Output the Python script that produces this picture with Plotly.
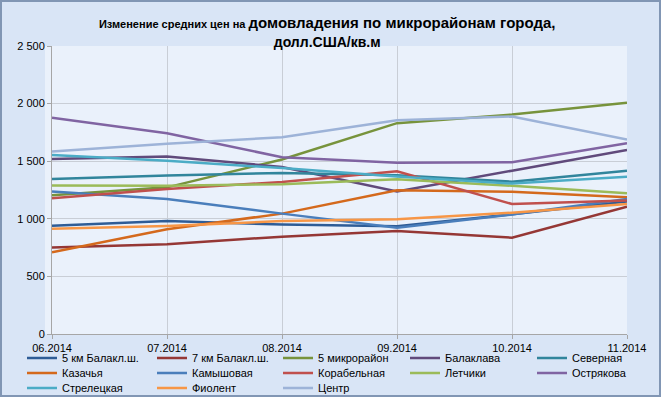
import plotly.graph_objects as go

months = ["06.2014", "07.2014", "08.2014", "09.2014", "10.2014", "11.2014"]

km5_balakl = [940, 980, 950, 935, 1040, 1150]
km7_balakl = [750, 780, 845, 895, 836, 1105]
mikr5 = [1205, 1273, 1515, 1830, 1905, 2008]
balaklava = [1520, 1540, 1450, 1238, 1418, 1598]
severnaya = [1345, 1375, 1398, 1378, 1322, 1418]
kazachya = [710, 910, 1045, 1248, 1235, 1188]
kamyshovaya = [1238, 1172, 1045, 922, 1038, 1172]
korabelnaya = [1178, 1258, 1320, 1413, 1128, 1158]
letchiki = [1290, 1287, 1300, 1343, 1287, 1222]
ostryakova = [1878, 1742, 1535, 1486, 1490, 1655]
streletskaya = [1553, 1503, 1440, 1368, 1306, 1364]
fiolent = [913, 938, 980, 997, 1053, 1128]
centr = [1585, 1652, 1708, 1855, 1888, 1688]

names = ["5 км Балакл.ш.", "7 км Балакл.ш.", "5 микрорайон", "Балаклава", "Северная",
         "Казачья", "Камышовая", "Корабельная", "Летчики", "Острякова",
         "Стрелецкая", "Фиолент", "Центр"]
series = [km5_balakl, km7_balakl, mikr5, balaklava, severnaya, kazachya, kamyshovaya,
          korabelnaya, letchiki, ostryakova, streletskaya, fiolent, centr]
colors = ["#2E5C96", "#953735", "#77933C", "#604A7B", "#31859C", "#D4691C", "#4A7EBB",
          "#C0504D", "#9BBB59", "#8064A2", "#4BACC6", "#F79646", "#9DB3D8"]

ytick_vals = [0, 500, 1000, 1500, 2000, 2500]
ytick_text = ["0", "500", "1 000", "1 500", "2 000", "2 500"]

W, H = 661, 397
col_x = [22, 152, 278, 405, 532]
row_y = [358, 373, 388]

fig = go.Figure()
legend_layouts = {}
for i, (n, s, c) in enumerate(zip(names, series, colors)):
    key = "legend" if i == 0 else f"legend{i + 1}"
    fig.add_trace(go.Scatter(x=months, y=s, name=n, mode="lines",
                             line=dict(color=c, width=2.5), legend=key))
    legend_layouts[key] = dict(
        xref="container", yref="container",
        x=col_x[i % 5] / W, xanchor="left",
        y=1 - row_y[i // 5] / H, yanchor="middle",
        orientation="h", bgcolor="rgba(0,0,0,0)", itemwidth=30,
        font=dict(size=11), borderwidth=0)

fig.update_layout(
    width=W, height=H,
    margin=dict(l=52, r=34, t=46, b=63, autoexpand=False),
    paper_bgcolor="#D9E5F6",
    plot_bgcolor="#EAF1FB",
    font=dict(family="Liberation Sans, Arial, sans-serif", size=11, color="#000000"),
    title=dict(
        text="<b><span style='font-size:11px'>Изменение средних цен на </span>домовладения по микрорайонам города,<br><span style='font-size:14px'>долл.США/кв.м</span></b>",
        x=0.495, xanchor="center", xref="container", y=0.93, yanchor="top",
        font=dict(size=15, family="Liberation Sans, Arial, sans-serif")),
    xaxis=dict(type="category", range=[0, 5], showgrid=True, gridcolor="#C9CED6",
               gridwidth=1, ticks="outside", ticklen=4, tickcolor="#A6A6A6",
               showline=True, linecolor="#A6A6A6", linewidth=1,
               tickfont=dict(size=11), fixedrange=True),
    yaxis=dict(range=[0, 2500], tickvals=ytick_vals, ticktext=ytick_text,
               showgrid=True, gridcolor="#C9CED6", gridwidth=1,
               ticks="outside", ticklen=4, tickcolor="#A6A6A6",
               showline=True, linecolor="#A6A6A6", linewidth=1,
               zeroline=False, tickfont=dict(size=11)),
    showlegend=True,
    shapes=[dict(type="rect", xref="paper", yref="paper", x0=-7/575, x1=1.0, y0=0, y1=1,
                 layer="below", line=dict(width=0), fillcolor="#EAF1FB"),
            dict(type="rect", xref="paper", yref="paper",
                 x0=-51/575, x1=1+33/575, y0=-62/288, y1=1+45/288,
                 line=dict(color="#8196B4", width=2), fillcolor="rgba(0,0,0,0)")],
    **legend_layouts,
)

fig.write_html("out.html", config={"displayModeBar": False},
               post_script="document.body.style.margin='0';document.body.style.overflow='hidden';")
